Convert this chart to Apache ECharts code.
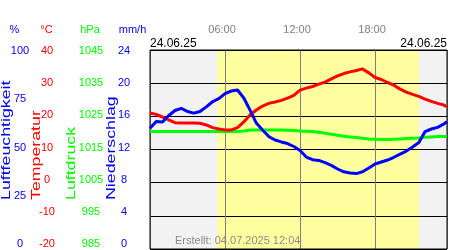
<!DOCTYPE html>
<html><head><meta charset="utf-8">
<script src="https://cdn.jsdelivr.net/npm/echarts@6/dist/echarts.min.js"></script>
<style>html,body{margin:0;padding:0;background:#fff}#c{width:450px;height:250px}</style>
</head><body><div id="c"></div>
<script>
// time of each reading, minutes after midnight (24.06.25)
const timesMin = [0,30,60,90,120,150,180,210,240,270,300,330,360,390,420,450,480,510,540,570,600,630,660,690,720,750,780,810,840,870,900,930,960,990,1020,1050,1080,1110,1140,1170,1200,1230,1260,1290,1320,1350,1380,1410,1425];
// Luftfeuchtigkeit (%)
const humidity = [60.7,64.1,63.8,67.1,69.6,70.7,69.1,68.3,69.1,71.4,74.0,75.6,78.1,79.4,79.9,75.9,69.8,63.3,59.8,56.5,54.8,53.8,53.0,51.5,49.5,46.2,44.9,44.5,43.4,42.0,40.2,38.8,38.2,37.9,38.8,40.7,42.7,43.7,44.7,46.1,47.7,49.2,51.3,53.5,59.0,60.3,61.1,62.8,64.0];
// Temperatur (°C)
const temperature = [21.0,20.6,19.8,18.9,18.1,18.0,18.0,18.0,17.9,17.4,16.6,16.2,15.9,15.9,16.6,18.3,20.4,21.9,23.1,23.9,24.3,24.8,25.5,26.3,27.9,28.5,29.0,29.7,30.3,31.3,32.2,32.9,33.4,33.8,34.3,33.1,31.7,31.1,30.2,29.4,28.2,27.3,26.6,26.0,25.2,24.5,23.9,23.4,22.9];
// Luftdruck (hPa)
const pressure = [1020.4,1020.4,1020.4,1020.4,1020.4,1020.4,1020.4,1020.4,1020.4,1020.4,1020.4,1020.4,1020.4,1020.4,1020.4,1020.6,1020.9,1020.9,1020.9,1020.9,1020.9,1020.9,1020.8,1020.7,1020.6,1020.5,1020.4,1020.2,1019.9,1019.6,1019.3,1019.0,1018.8,1018.6,1018.4,1018.2,1018.1,1018.0,1018.0,1018.1,1018.2,1018.3,1018.4,1018.5,1018.7,1018.8,1018.9,1018.9,1018.9];

// tick labels
const humTicks = [0,25,50,75,100];
const tempTicks = [-20,-10,0,10,20,30,40];
const presTicks = [985,995,1005,1015,1025,1035,1045];
const rainTicks = [0,4,8,12,16,20,24];
const timeTicks = ['06:00','12:00','18:00'];
// daylight (sunrise / sunset, minutes) and end of axis
const sunrise = 323, sunset = 1292, axisEnd = 1425;

const FF = 'Liberation Sans, Arial, sans-serif';
const BLUE = '#0000ff', RED = '#ff0000', GREEN = '#00ff00';

const chart = echarts.init(document.getElementById('c'), null, {renderer:'canvas'});

function labelAxis(ticks, offset, color){
  return {gridIndex:1, type:'category', data:ticks.map(String), boundaryGap:false, position:'left', offset:offset,
    axisLine:{show:false}, axisTick:{show:false}, splitLine:{show:false},
    axisLabel:{color:color, fontSize:11, fontFamily:FF, align:'center', margin:0, interval:0}};
}
function title(text, x, color){
  return {type:'text', x:x, y:200, rotation:Math.PI/2, scaleX:1.48, z:10,
    style:{text:text, fill:color, font:'12px '+FF, align:'left', verticalAlign:'middle'}};
}
function txt(text, x, y, color, size, align){
  return {type:'text', x:x, y:y, z:10, style:{text:text, fill:color, font:size+'px '+FF, align:align||'center', verticalAlign:'middle'}};
}

chart.setOption({
  animation:false,
  backgroundColor:'#fff',
  grid:[
    {left:150, top:50, width:299, height:199, show:true, borderColor:'#000', borderWidth:1, backgroundColor:'transparent', z:4},
    {left:150, top:51, width:299, height:193, show:false}
  ],
  xAxis:[
    {gridIndex:0, type:'value', min:0, max:axisEnd, interval:360, position:'top', z:3,
      axisLine:{show:false}, axisTick:{show:false},
      axisLabel:{color:'#808080', fontSize:11, fontFamily:FF, margin:20, verticalAlign:'middle', padding:[0,6,0,0],
        formatter:function(v){ const i = Math.round(v/360)-1; return (v%360===0 && i>=0 && i<timeTicks.length) ? timeTicks[i] : ''; }},
      splitLine:{show:true, lineStyle:{color:'#808080', width:1}}},
    {gridIndex:1, type:'value', show:false}
  ],
  yAxis:[
    {gridIndex:0, type:'value', min:0, max:100, show:false},
    {gridIndex:0, type:'value', min:-20, max:40, interval:10, z:3,
      axisLine:{show:false}, axisTick:{show:false}, axisLabel:{show:false},
      splitLine:{show:true, lineStyle:{color:'#000', width:1}}},
    {gridIndex:0, type:'value', min:985, max:1045, show:false},
    labelAxis(humTicks, 130, BLUE),
    labelAxis(tempTicks, 103, RED),
    labelAxis(presTicks, 59, GREEN),
    labelAxis(rainTicks, 26, BLUE)
  ],
  series:[
    {type:'line', xAxisIndex:0, yAxisIndex:1, data:[], z:0, silent:true,
      markArea:{silent:true, z:0, zlevel:0, data:[
        [{xAxis:0, itemStyle:{color:'#f2f2f2'}},{xAxis:sunrise}],
        [{xAxis:sunrise, itemStyle:{color:'#ffffa0'}},{xAxis:sunset}],
        [{xAxis:sunset, itemStyle:{color:'#f2f2f2'}},{xAxis:axisEnd}]
      ]}},
    {name:'Luftdruck', type:'line', xAxisIndex:0, yAxisIndex:2, z:5, showSymbol:false, silent:true,
      lineStyle:{color:GREEN, width:3}, itemStyle:{color:GREEN},
      data:timesMin.map((t,i)=>[t, pressure[i]])},
    {name:'Temperatur', type:'line', xAxisIndex:0, yAxisIndex:1, z:6, showSymbol:false, silent:true,
      lineStyle:{color:RED, width:3}, itemStyle:{color:RED},
      data:timesMin.map((t,i)=>[t, temperature[i]])},
    {name:'Luftfeuchtigkeit', type:'line', xAxisIndex:0, yAxisIndex:0, z:7, showSymbol:false, silent:true,
      lineStyle:{color:BLUE, width:3}, itemStyle:{color:BLUE},
      data:timesMin.map((t,i)=>[t, humidity[i]])}
  ],
  graphic:[
    txt('%', 14.5, 30, BLUE, 11),
    txt('°C', 46.5, 30, RED, 11),
    txt('hPa', 90, 30, GREEN, 11),
    txt('mm/h', 132.5, 30, BLUE, 11),
    txt('24.06.25', 150, 43.5, '#000', 12, 'left'),
    txt('24.06.25', 447, 43.5, '#000', 12, 'right'),
    txt('Erstellt: 04.07.2025 12:04', 175, 240.5, '#8c8c8c', 11, 'left'),
    title('Luftfeuchtigkeit', 7, BLUE),
    title('Temperatur', 36.5, RED),
    title('Luftdruck', 72, GREEN),
    title('Niederschlag', 111.5, BLUE)
  ]
});
</script></body></html>
